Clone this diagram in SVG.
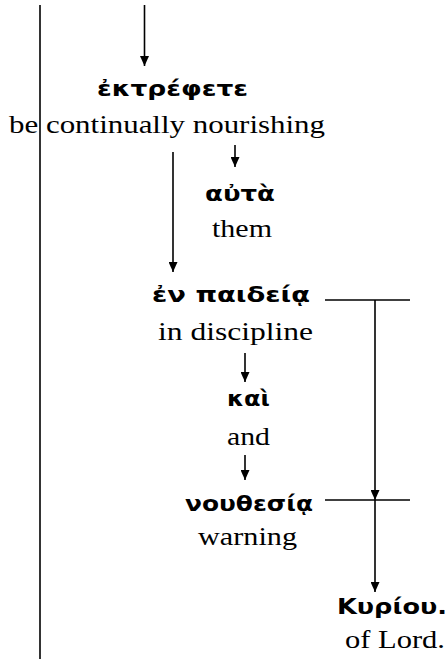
<svg xmlns="http://www.w3.org/2000/svg" width="448" height="659" viewBox="0 0 448 659">
<style>
.gk{font-family:"DejaVu Sans","Noto Sans",sans-serif;font-weight:bold;font-size:22px;fill:#000}
.en{font-family:"Liberation Serif","Times New Roman",serif;font-size:26px;fill:#000}
.ln{stroke:#000;stroke-width:1.6;fill:none}
</style>
<defs>
<marker id="ah" viewBox="0 0 10 9" refX="10" refY="4.5" markerWidth="10" markerHeight="9" markerUnits="userSpaceOnUse" orient="auto">
<path d="M0,0 L10,4.5 L0,9 Z" fill="#000"/>
</marker>
</defs>
<g id="connectors">
<line class="ln" x1="40" y1="5" x2="40" y2="659"/>
<path class="ln" d="M144.5,5 V66" marker-end="url(#ah)"/>
<path class="ln" d="M235,145 V167" marker-end="url(#ah)"/>
<path class="ln" d="M173,152 V272" marker-end="url(#ah)"/>
<path class="ln" d="M245,353 V382" marker-end="url(#ah)"/>
<path class="ln" d="M245,455 V480" marker-end="url(#ah)"/>
<line class="ln" x1="325" y1="300" x2="410" y2="300"/>
<line class="ln" x1="325" y1="500" x2="410" y2="500"/>
<path class="ln" d="M375,300 V500" marker-end="url(#ah)"/>
<path class="ln" d="M375,500 V592" marker-end="url(#ah)"/>
</g>
<g id="n1">
<text class="gk" x="97" y="96" textLength="151" lengthAdjust="spacingAndGlyphs">ἐκτρέφετε</text>
<text class="en" x="9" y="133" textLength="316" lengthAdjust="spacingAndGlyphs">be continually nourishing</text>
</g>
<g id="n2">
<text class="gk" x="205" y="201" textLength="70" lengthAdjust="spacingAndGlyphs">αὐτὰ</text>
<text class="en" x="212" y="237" textLength="60" lengthAdjust="spacingAndGlyphs">them</text>
</g>
<g id="n3">
<text class="gk" x="152" y="302" textLength="158" lengthAdjust="spacingAndGlyphs">ἐν παιδείᾳ</text>
<text class="en" x="158" y="340" textLength="155" lengthAdjust="spacingAndGlyphs">in discipline</text>
</g>
<g id="n4">
<text class="gk" x="227" y="406" textLength="43" lengthAdjust="spacingAndGlyphs">καὶ</text>
<text class="en" x="227" y="445" textLength="43" lengthAdjust="spacingAndGlyphs">and</text>
</g>
<g id="n5">
<text class="gk" x="185" y="511" textLength="128" lengthAdjust="spacingAndGlyphs">νουθεσίᾳ</text>
<text class="en" x="198" y="545" textLength="99" lengthAdjust="spacingAndGlyphs">warning</text>
</g>
<g id="n6">
<text class="gk" x="337" y="614" textLength="110" lengthAdjust="spacingAndGlyphs">Κυρίου.</text>
<text class="en" x="345" y="648" textLength="100" lengthAdjust="spacingAndGlyphs">of Lord.</text>
</g>
</svg>
